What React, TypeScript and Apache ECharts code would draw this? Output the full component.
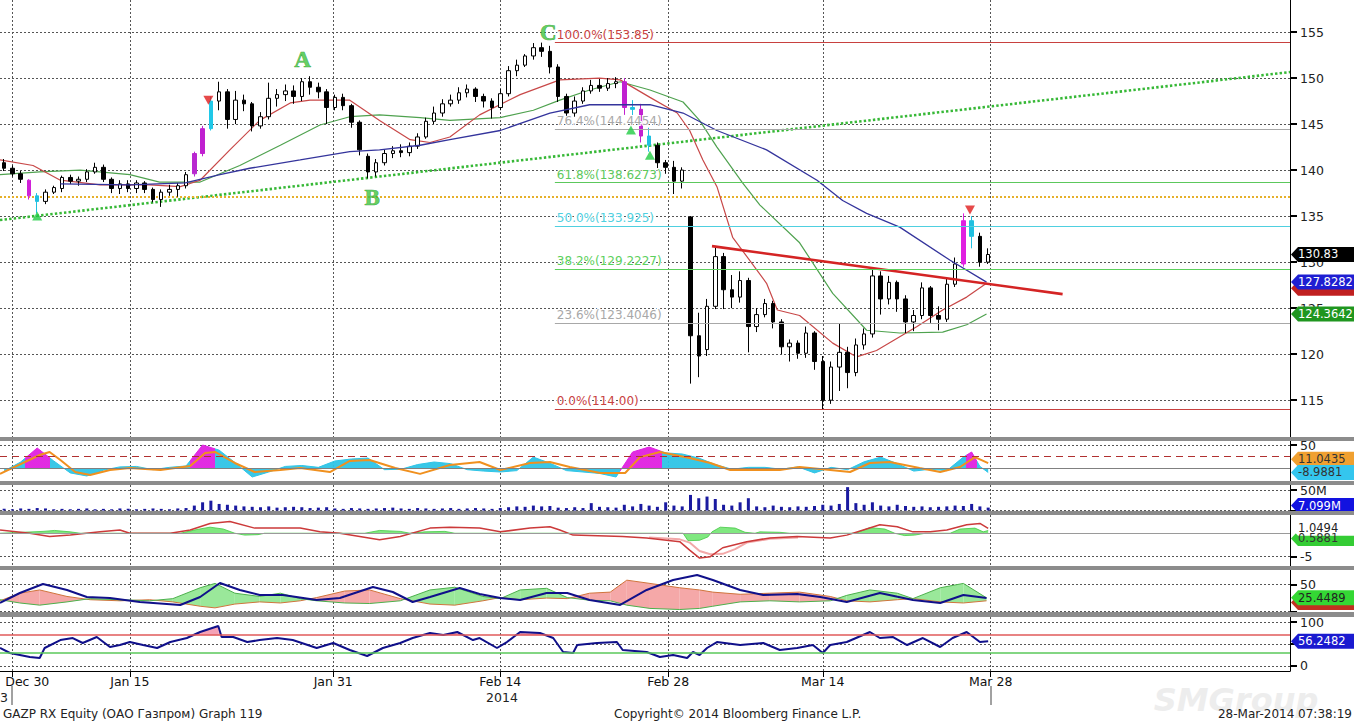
import React, { useEffect, useRef } from "react";
import * as echarts from "echarts";

const FONT = '"DejaVu Sans", Verdana, sans-serif';

// ---------- time scale: one slot = half a trading day ----------
const SLOT_COUNT = 156;
const X_MIN = -0.5;
const X_MAX = 155.5;
const tickSlots = [1, 15.2, 39.8, 60, 80.3, 99, 119.3];
const labelSlots = [2.8, 15.2, 39.8, 60, 80.3, 99, 119.3];
const tickLabels = ["Dec 30", "Jan 15", "Jan 31", "Feb 14", "Feb 28", "Mar 14", "Mar 28"];

// ---------- price (OHLC per slot) ----------
const opens = [140.8,140.2,139.6,138.9,137.2,136.6,137.6,138.0,139.2,138.8,139.0,139.8,140.3,139.0,138.0,138.5,138.0,138.6,137.9,136.8,137.6,137.9,138.3,139.6,141.8,144.5,147.5,148.5,145.5,147.6,147.2,144.8,145.8,147.8,148.2,148.6,148.0,149.6,149.0,148.5,146.8,147.9,147.0,145.2,141.5,139.8,140.8,141.8,142.1,141.9,142.6,143.6,145.3,146.2,147.2,147.6,148.4,148.8,148.0,147.5,146.8,148.3,150.8,151.4,152.4,153.3,152.9,151.2,148.0,146.2,147.5,148.6,149.2,148.9,149.4,149.6,146.8,146.6,143.7,142.7,140.8,140.3,138.8,134.9,122.0,120.5,125.2,130.6,127.0,126.2,128.0,123.0,124.3,125.5,123.5,120.8,121.2,120.1,122.3,119.2,115.0,118.6,120.2,118.0,121.0,122.2,128.5,126.0,127.8,126.0,123.5,124.2,127.2,124.2,123.8,127.6,129.8,134.5,132.8,130.0];
const closes = [140.2,139.6,139.0,137.2,136.6,137.6,138.1,139.2,138.8,139.0,139.8,140.3,139.0,138.0,138.5,138.0,138.6,137.9,136.8,137.6,137.9,138.3,139.5,141.8,144.5,147.5,148.5,145.5,147.6,147.2,144.8,145.8,147.8,148.2,148.6,148.0,149.6,149.0,148.5,146.8,147.9,147.0,145.2,142.2,139.8,140.8,141.8,142.1,141.9,142.6,143.6,145.3,146.2,147.2,147.6,148.4,148.8,148.0,147.5,146.8,148.3,150.8,151.4,152.4,153.3,152.9,151.2,148.0,146.2,147.5,148.6,149.2,148.9,149.4,149.6,146.8,146.6,143.7,142.7,140.8,140.3,138.8,140.0,122.0,119.8,125.2,130.6,127.0,126.2,128.0,123.0,124.3,125.5,123.5,120.8,121.2,120.1,122.3,119.2,115.0,118.6,120.2,118.0,121.0,122.2,128.5,126.0,127.8,126.0,123.5,124.2,127.2,124.2,123.8,127.6,129.8,134.5,132.8,130.0,130.83];
const lows = [139.9,139.3,138.6,136.8,135.3,136.3,137.4,137.6,138.5,138.3,138.7,139.6,138.7,137.5,137.4,137.6,137.5,137.5,136.5,136.0,137.2,137.1,138.0,139.3,141.5,144.3,146.5,144.5,145.0,146.4,144.2,144.5,145.5,146.9,147.5,147.2,147.5,148.2,147.8,145.0,146.5,146.5,144.6,141.6,139.1,139.3,140.5,141.3,141.4,141.5,142.3,143.4,145.0,145.8,146.9,147.2,147.9,147.4,146.8,145.6,146.5,148.0,150.2,151.2,152.0,152.3,150.5,147.4,145.8,145.8,147.2,148.3,148.5,148.6,148.9,146.0,145.9,143.0,142.0,140.1,139.6,137.4,138.0,116.8,117.5,119.8,124.9,124.9,125.0,125.6,120.2,122.4,124.0,122.8,120.0,119.2,119.5,119.6,118.3,114.0,114.6,116.0,116.3,117.6,120.5,121.8,124.3,125.4,124.6,122.3,122.5,123.8,123.4,122.6,123.5,127.3,129.5,131.5,129.5,129.8];
const highs = [141.2,140.5,139.9,139.0,137.5,137.9,138.3,139.4,139.5,139.3,140.1,140.8,140.6,139.2,138.9,138.9,138.9,138.8,138.1,137.9,138.4,138.6,139.8,142.0,144.8,148.0,149.6,148.8,148.6,148.2,147.4,146.3,149.5,148.8,149.3,149.2,150.0,150.2,149.5,148.8,148.2,148.3,147.2,145.4,141.8,141.2,142.2,142.6,142.8,143.0,144.0,145.7,146.9,147.7,148.2,149.0,149.3,149.0,148.3,147.8,148.8,151.3,152.0,152.6,153.8,153.85,153.5,151.5,148.3,148.0,149.0,149.8,149.9,150.0,150.1,150.0,147.6,147.2,144.6,143.0,141.1,141.0,140.3,135.0,124.5,126.0,131.7,131.0,128.6,129.0,128.3,125.0,126.0,125.8,123.8,121.6,121.5,123.0,122.5,119.8,119.2,123.3,120.8,121.7,122.8,129.2,129.0,128.5,128.0,126.4,124.8,127.8,127.4,125.2,128.2,130.5,135.3,135.0,133.2,131.5];
const signalSlots = [3, 4, 23, 24, 25, 75, 76, 77, 78, 116, 117];
const signalColors = ["#d020d8", "#20c0e0", "#b828d0", "#c020d0", "#20c8e8", "#c020d0", "#20c0e0", "#c020d0", "#20c0e0", "#e020e0", "#20c0e0"];

// ---------- moving averages ----------
const maRedX = [-0.5,3.5,6.8,11.6,17.6,21.3,23.7,27.3,30.9,34.6,37,41.8,45.4,49.1,51.5,53.9,57.5,62.4,67.2,72,74.5,78.1,81.4,82.9,84.5,86.2,88.1,92.2,93.5,96.2,100.2,103.1,105.5,110.4,113.5,116.4,118.8];
const maRedY = [141.1,140.5,138.9,138.4,138.4,138.2,138.9,142.2,145.4,147.3,147.6,147.6,145.4,143.3,143.0,143.6,146.0,148.2,149.8,150.0,149.8,147.9,146.2,144.3,141.1,138.2,132.7,127.7,124.8,124.2,121.2,119.7,120.4,123.0,124.8,126.2,127.7];
const maGreenX = [-0.5,4.3,9.2,15.2,18.8,23.7,28.5,33.4,38.2,41.8,45.4,50.3,53.9,60,64,67.2,70.8,74.5,78.1,82.1,84.1,86.2,89.3,91.4,96.2,100.2,104.3,108.3,113.5,116.4,118.8];
const maGreenY = [139.5,139.8,140.0,139.5,138.7,138.7,140.5,142.7,144.9,145.8,146.0,145.7,145.4,145.7,146.5,147.6,148.7,149.6,148.7,147.4,145.4,142.5,138.6,136.2,132.1,126.6,122.6,122.3,122.4,123.2,124.36];
const maBlueX = [6.8,15.2,21.9,26.1,29.7,35.8,41.8,45.4,50.3,53.9,60,66,70.8,78.1,82.1,86.2,92.2,98.3,101.4,104.3,108.3,114.4,118.8];
const maBlueY = [138.5,138.4,138.6,139.5,140.2,141.1,142.0,142.2,142.7,143.3,144.3,146.2,147.1,147.1,146.2,144.3,142.2,138.9,136.7,135.3,133.8,130.2,127.83];

// ---------- drawn studies ----------
const greenTrendX = [-0.5, 155.5];
const greenTrendY = [134.57, 150.65];
const orangeLevel = 137.07;
const redTrendX = [85.6, 128.0];
const redTrendY = [131.74, 126.52];
const fibHigh = 153.85;
const fibLow = 114.0;
const fibStartSlot = 66.6;
const fibPct = [100, 76.4, 61.8, 50, 38.2, 23.6, 0];
const fibLabels = ["100.0%(153.85)", "76.4%(144.4454)", "61.8%(138.6273)", "50.0%(133.925)", "38.2%(129.2227)", "23.6%(123.4046)", "0.0%(114.00)"];
const fibColors = ["#c8413f", "#a8a8a8", "#5cc85c", "#4fd0e0", "#5cd05c", "#a8a8a8", "#c8413f"];
const downMarkX = [24.7, 116.8];
const downMarkY = [147.6, 135.65];
const upMarkX = [4, 75.8, 78.1];
const upMarkY = [135.0, 144.35, 141.6];
const waveLabels = ["A", "B", "C"];
const waveX = [36.1, 44.5, 65.8];
const waveY = [152.0, 137.07, 155.0];
const priceTicks = [115, 120, 125, 130, 135, 140, 145, 150, 155];

// ---------- oscillator panel ----------
const oscX = [0,2,4,6,8,10,12,14,16,18,20,22,24,26,28,30,32,34,36,38,40,42,44,46,48,50,52,54,56,58,60,62,64,66,68,70,72,74,76,78,80,82,84,86,88,90,92,94,96,98,100,102,104,106,108,110,112,114,116,117,118,119];
const oscY = [-5.8,13.5,43.6,15.7,-10,-16.5,-4,3,4,-3,2,5,50,39,11,-18.7,-8,4,6,2,15.7,20,22,-3,-2,8,13.5,10,-3,-6,-8,-5,24,11,-5,-8,-11,-18.7,35,45.7,33,30.7,22,8,-2,2,2,-2,3,-10,2,-3,14,24,10,-6,-2,-5,24,35,4,-8.99];
const magentaRanges = [[2.5, 5.5], [22.5, 25.5], [74.5, 79.5], [116.3, 117.7]];
const oscSigX = [-0.5,4.3,5.5,6.8,8.6,10.4,12.8,15.2,18.9,22.5,24.3,25.5,27.9,30.3,33.4,35.8,39.4,41.8,44.2,47.3,50.3,53.9,57.5,60,63.6,66,68.4,72.1,75.1,76.9,79.3,82.9,85.4,87.8,93.8,96.2,99.9,102.3,104.7,107.1,110.7,113.2,115.6,117.4,119];
const oscSigY = [-12,28.5,35,17.8,-8,-14.4,-3.6,0.6,-3.6,5,33,35,11.4,-8,-3.6,0.6,-8,15.7,17.8,0.6,-12,7,13.5,-3.6,11.4,13.5,2.8,-10,-10,24,35,22,11.4,-3.6,-3.6,2.8,-3.6,-8,11.4,13.5,0.6,-8,2.8,24,11.04];

// ---------- volume (millions) ----------
const volume = [4,3,5,4,6,5,3,4,3,4,5,3,4,3,5,4,3,4,5,4,3,5,6,
  12,20,24,16,14,12,10,9,8,10,7,8,9,8,6,7,8,
  5,4,6,5,4,5,6,7,5,4,6,5,4,5,6,4,5,6,5,4,6,
  8,10,9,12,10,11,
  7,6,8,6,18,9,8,7,
  14,10,16,12,
  9,20,12,10,
  38,30,34,28,
  14,12,20,
  30,
  10,8,12,9,8,10,9,11,
  14,12,16,
  57,
  18,14,20,
  12,10,14,11,9,10,8,
  9,10,12,11,16,10,7.1];

// ---------- MACD ----------
const macdX = [-0.5,3.1,5.5,8,11.6,14,15.2,20.1,22.5,24.9,27.3,30.3,33.4,35.8,38.2,40.6,45.4,47.9,51.5,53.9,57.5,60,63.6,66,67.2,68.8,74.8,77.7,81.7,82.9,84.1,85.4,86.9,89.8,92.6,95.9,99.9,101.9,103.9,105.9,108,109.9,112,114,116.4,118,119];
const macdY = [0.7,0,-0.7,-0.4,0.3,0.7,0,0,0.7,2.1,2.5,1.1,1.1,1.1,0.3,0,-1.4,-0.7,1.1,1.3,1.1,0.3,1.1,1.4,0.7,-0.4,-0.7,-1.0,-1.8,-3.6,-5.3,-5.0,-3.1,-1.8,-1.0,-0.7,-1.0,-0.4,0.7,1.8,1.4,0.3,0.3,0.7,1.8,2.1,1.05];
const macdSigX = [78,81.7,82.9,84.1,85.4,86.9,88.4,89.8,92.6,96];
const macdSigY = [-0.9,-1.3,-2.0,-3.8,-4.5,-4.4,-3.4,-2.0,-1.2,-0.9];
const histX = [-0.5,4.7,6.1,8,9.2,21.3,23.3,24.9,26.5,27.9,29.1,30.7,31.5,43.6,45.4,47.9,49.1,50.9,53.3,54.5,73.3,82.1,82.7,84.1,85.1,85.6,86.6,88.4,89.6,90.8,91.4,93.8,95,102.9,104.7,106.5,107.7,108.9,110.1,111.4,114.4,115.6,117.4,118.4,119];
const histY = [0,0.4,0.6,0.3,0,0,0.8,1.3,0.9,0,-0.4,-0.3,0,0,0.6,0.4,0,0.3,0.4,0,0,0,-1.6,-1.5,-0.8,0.3,1.3,1.1,0.2,0,0.3,0.2,0,0,1.2,0.9,0,-0.5,-0.4,0,0,0.9,1.1,0.3,0.59];

// ---------- DMI ----------
const dmiX = [-0.5,1.9,4.3,7.6,10.4,14,17.6,20.4,23.7,25.5,27.9,30.9,33.4,35.8,37.8,41.2,44.2,47.9,51.5,54.5,57.9,60,62.4,65.6,68.1,70.8,73.3,75.3,78.1,81.7,84.1,85.7,89,92.6,96.2,99.9,101.9,104.7,108,109.9,113.2,116,118.8];
const diPlus = [22,16,12,18,24,22,20,24,44,52,34,28,34,24,20,16,15,20,40,45,28,24,40,43,26,21,20,12,6,4,6,10,18,20,18,20,30,40,34,24,44,52,25.4];
const diMinus = [20,34,40,28,22,20,22,18,10,7,14,18,16,20,26,38,40,24,14,12,20,26,22,25,24,34,36,58,52,44,40,36,32,34,36,28,20,18,22,24,18,16,20];
const adxX = [-0.5,1.9,4.7,7.6,10,12.8,16.4,21.3,23.7,26.1,28.5,30.9,33.7,37.8,40.6,44.6,47,49.4,51.5,55.1,57.5,60,62.4,65.6,68.1,70.8,74.5,77.7,80.9,83.8,85.7,89,91.8,95.9,98.7,101.9,105.9,109.9,113.2,116,118.8];
const adxY = [16,34.4,51,39.9,27,25.2,17.8,12.3,27,52.8,39.9,30.7,30.7,21.5,25.2,45.4,36.2,17.8,27,43.6,32.5,25.2,21.5,34.4,34.4,21.5,12.3,39.9,58.3,67.5,58.3,39.9,30.7,32.5,27,17.8,34.4,21.5,16,30.7,25.2];

// ---------- RSI ----------
const rsiX = [-0.5,0.7,1.9,3.1,4.3,4.9,6.8,8.3,9.5,11.2,12.8,14,15.2,16.8,18.5,20.1,22.1,23.7,25.9,26.3,27.7,29.4,30.9,33,34.9,37.8,39.8,41.8,43.9,45.8,47.9,49.4,51.5,53.1,54.8,56.7,57.5,59.6,60.8,62.4,64.8,66.4,67.6,68.8,69.3,71.7,74.1,74.8,77.7,79.3,80.9,82.6,83.3,84.1,85,86.2,89,91.8,93.8,95.9,97.8,99,99.9,101.9,104.7,105.9,107.5,109.2,111.1,113.2,114.7,116.4,118,119];
const rsiY = [40.9,29.5,25,20.5,18.2,40.9,59,63.6,52.3,65.9,43.2,47.7,54.5,47.7,40.9,54.5,63.6,77.3,90.9,65.9,65.9,54.5,59,63.6,59,40.9,52.3,36.4,22.7,40.9,52.3,63.6,75,70.5,77.3,59,63.6,40.9,54.5,77.3,75,63.6,31.8,29.5,47.7,52.3,54.5,36.4,31.8,20.5,25,18.2,31.8,25,40.9,54.5,47.7,52.3,36.4,40.9,47.7,29.5,47.7,54.5,77.3,63.6,65.9,47.7,63.6,43.2,63.6,77.3,54.5,56.25];
const rsiUpper = 70;
const rsiLower = 30;

// ---------- last-value tags ----------
const lastPrice = 130.83;
const maBlueLast = 127.8282;
const maRedLast = 127.6;
const maGreenLast = 124.3642;
const oscLast = -8.9881;
const oscSigLast = 11.0435;
const volLast = 7.099;
const macdLast = 1.0494;
const macdHistLast = 0.5881;
const dmiLast = 25.4489;
const rsiLast = 56.2482;

const zip = (xs: number[], ys: number[]) => xs.map((x, i) => [x, ys[i]]);
const TAG_PATH = "path://M0,7.5L7,0L70,0L70,15L7,15Z";
const tag = (value: number, text: string, bg: string, fg: string, dy = 0) => ({
  coord: [X_MAX, value],
  symbol: TAG_PATH,
  symbolSize: [70, 15],
  symbolOffset: [36, dy],
  symbolKeepAspect: false,
  itemStyle: { color: bg },
  label: { show: true, position: "insideLeft", distance: 7, formatter: text, color: fg, fontSize: 11.5, fontFamily: FONT },
});
const tags = (data: any[]) => ({ silent: true, animation: false, data });

// filled band between two polylines sharing the same x values (drawn through the axes' scales)
function bandSeries(xi: number, yi: number, xs: number[], a: number[], b: number[], posColor: string, negColor: string | null) {
  return {
    type: "custom",
    xAxisIndex: xi,
    yAxisIndex: yi,
    silent: true,
    clip: true,
    z: 1,
    data: xs.slice(0, -1).map((x, i) => [x, xs[i + 1], a[i], a[i + 1], b[i], b[i + 1]]),
    encode: { x: [0, 1], y: [2, 3, 4, 5] },
    renderItem: (_params: any, api: any) => {
      const x0 = api.value(0), x1 = api.value(1);
      const a0 = api.value(2), a1 = api.value(3), b0 = api.value(4), b1 = api.value(5);
      const P = (x: number, y: number) => api.coord([x, y]);
      const d0 = a0 - b0, d1 = a1 - b1;
      const polys: { pts: number[][]; pos: boolean }[] = [];
      if (d0 * d1 >= 0) {
        polys.push({ pts: [P(x0, a0), P(x1, a1), P(x1, b1), P(x0, b0)], pos: d0 + d1 >= 0 });
      } else {
        const t = d0 / (d0 - d1);
        const xc = x0 + t * (x1 - x0);
        const yc = a0 + t * (a1 - a0);
        polys.push({ pts: [P(x0, a0), P(xc, yc), P(x0, b0)], pos: d0 > 0 });
        polys.push({ pts: [P(xc, yc), P(x1, a1), P(x1, b1)], pos: d1 > 0 });
      }
      const children = polys
        .filter((p) => p.pos || negColor)
        .map((p) => ({ type: "polygon", shape: { points: p.pts }, style: { fill: p.pos ? posColor : (negColor as string) } }));
      return { type: "group", children };
    },
  };
}

function buildOption() {
  const CYAN = "#2ec4e6";
  const MAGENTA = "#e020e0";
  const gridDefs = [
    { top: 0, height: 437 },
    { top: 441, height: 40 },
    { top: 485, height: 26 },
    { top: 515, height: 51 },
    { top: 570, height: 42 },
    { top: 617, height: 54 },
  ];
  const grid = gridDefs.map((g) => ({ left: 0, right: 64, top: g.top, height: g.height, containLabel: false, outerBoundsMode: "none" }));

  const splitStyle = { show: true, lineStyle: { color: "#555", type: [2, 2], width: 1 } };
  const valueX = (gridIndex: number, bottom: boolean) => ({
    type: "value",
    gridIndex,
    min: X_MIN,
    max: X_MAX,
    axisLine: { show: bottom, onZero: false, lineStyle: { color: "#000", width: 1 } },
    axisTick: { show: bottom, customValues: tickSlots, length: 6, lineStyle: { color: "#000" } },
    axisLabel: bottom
      ? {
          show: true,
          customValues: labelSlots,
          margin: 4,
          color: "#111",
          fontSize: 12.5,
          fontFamily: FONT,
          formatter: (v: number) => {
            const k = labelSlots.findIndex((s) => Math.abs(s - v) < 1e-6);
            return k >= 0 ? tickLabels[k] : "";
          },
        }
      : { show: false },
    splitLine: splitStyle,
  });
  const xAxis: any[] = [
    {
      type: "category",
      gridIndex: 0,
      data: Array.from({ length: SLOT_COUNT }, (_, i) => String(i)),
      boundaryGap: true,
      show: false,
    },
    valueX(0, false),
    valueX(1, false),
    valueX(2, false),
    valueX(3, false),
    valueX(4, false),
    valueX(5, true),
  ];

  const yAx = (gridIndex: number, min: number, max: number, labels: number[], ticks: number[], fmt?: (v: number) => string) => ({
    type: "value",
    gridIndex,
    position: "right",
    min,
    max,
    axisLine: { show: true, onZero: false, lineStyle: { color: "#000", width: 1 } },
    axisTick: { show: true, customValues: ticks, length: 7, lineStyle: { color: "#000", width: 2 } },
    axisLabel: { show: true, customValues: labels, formatter: fmt, margin: 10, color: "#222", fontSize: 12.5, fontFamily: FONT },
    splitLine: splitStyle,
  });
  const yAxis: any[] = [
    yAx(0, 111.0, 158.48, priceTicks, priceTicks),
    yAx(1, -27.3, 58.6, [50], [50]),
    yAx(2, -1.2, 62.2, [50], [0, 50], (v: number) => v + "M"),
    yAx(3, -7.0, 3.9, [-5], [-5]),
    yAx(4, -0.6, 76.7, [50], [0, 50]),
    yAx(5, -11.4, 111.4, [0, 100], [0, 50, 100]),
  ];

  const line = (xi: number, yi: number, data: any[], color: string, width: number, extra: any = {}) => ({
    type: "line",
    xAxisIndex: xi,
    yAxisIndex: yi,
    data,
    symbol: "none",
    silent: true,
    lineStyle: { color, width },
    ...extra,
  });

  const candleData = opens.map((o, i) => {
    const k = signalSlots.indexOf(i);
    const item: any = { value: [o, closes[i], lows[i], highs[i]] };
    if (k >= 0) {
      const c = signalColors[k];
      item.itemStyle = { color: c, color0: c, borderColor: c, borderColor0: c };
    }
    return item;
  });

  const fibMarks = fibPct.map((p, i) => {
    const lvl = fibLow + ((fibHigh - fibLow) * p) / 100;
    return [
      {
        coord: [fibStartSlot, lvl],
        lineStyle: { color: fibColors[i], width: 1, type: "solid" },
        label: {
          show: true,
          position: "insideStartTop",
          distance: [2, 2],
          formatter: fibLabels[i],
          color: fibColors[i],
          fontSize: 12,
          fontFamily: FONT,
          textBorderColor: "#fff",
          textBorderWidth: 2,
        },
      },
      { coord: [X_MAX, lvl] },
    ];
  });

  const series: any[] = [];
  // main panel
  series.push(line(1, 0, zip(greenTrendX, greenTrendY), "#36b836", 2.6, { lineStyle: { color: "#36b836", width: 2.6, type: [2.4, 2.2] }, z: 1 }));
  series.push(line(1, 0, [[X_MIN, orangeLevel], [X_MAX, orangeLevel]], "#e6b02a", 2, { lineStyle: { color: "#e6b02a", width: 2, type: [2, 2] }, z: 1 }));
  series.push({
    type: "line",
    xAxisIndex: 1,
    yAxisIndex: 0,
    data: [[fibStartSlot, fibHigh]],
    symbol: "none",
    silent: true,
    z: 1,
    markLine: { symbol: ["none", "none"], silent: true, animation: false, data: fibMarks },
  });
  series.push(line(1, 0, zip(maGreenX, maGreenY), "#4fa24f", 1.2, { z: 2 }));
  series.push(line(1, 0, zip(maRedX, maRedY), "#c84848", 1.2, { z: 2 }));
  series.push({
    type: "candlestick",
    xAxisIndex: 0,
    yAxisIndex: 0,
    data: candleData,
    barWidth: 4,
    silent: true,
    z: 3,
    itemStyle: { color: "#ffffff", color0: "#000000", borderColor: "#000000", borderColor0: "#000000", borderWidth: 1 },
  });
  series.push(
    line(1, 0, zip(maBlueX, maBlueY), "#34349c", 1.3, {
      z: 4,
      markPoint: tags([
        tag(maRedLast, "", "#c02020", "#fff", 4),
        tag(maBlueLast, String(maBlueLast), "#1e1ed2", "#ffffff"),
        tag(maGreenLast, String(maGreenLast), "#1f961f", "#ffffff"),
        tag(lastPrice, String(lastPrice), "#000000", "#ffffff"),
      ]),
    })
  );
  series.push(line(1, 0, zip(redTrendX, redTrendY), "#d42424", 2.6, { z: 4 }));
  series.push({
    type: "scatter",
    xAxisIndex: 1,
    yAxisIndex: 0,
    data: zip(downMarkX, downMarkY),
    symbol: "triangle",
    symbolRotate: 180,
    symbolSize: [10, 9],
    itemStyle: { color: "#e01c1c" },
    silent: true,
    z: 6,
  });
  series.push({
    type: "scatter",
    xAxisIndex: 1,
    yAxisIndex: 0,
    data: zip(upMarkX, upMarkY),
    symbol: "triangle",
    symbolSize: [10, 9],
    itemStyle: { color: "#22cc44" },
    silent: true,
    z: 6,
  });
  series.push({
    type: "scatter",
    xAxisIndex: 1,
    yAxisIndex: 0,
    data: waveX.map((x, i) => ({ value: [x, waveY[i]], name: waveLabels[i] })),
    symbolSize: 1,
    itemStyle: { color: "rgba(0,0,0,0)" },
    silent: true,
    z: 7,
    label: {
      show: true,
      position: "inside",
      formatter: "{b}",
      color: "#3cc23c",
      fontSize: 23,
      fontWeight: "bold",
      fontFamily: '"Liberation Serif", "DejaVu Serif", serif',
      textBorderColor: "#2a8a2a",
      textBorderWidth: 0.6,
    },
  });

  // oscillator panel
  const oscIndex = series.length;
  series.push({
    type: "line",
    xAxisIndex: 2,
    yAxisIndex: 1,
    data: zip(oscX, oscY),
    symbol: "none",
    silent: true,
    lineStyle: { width: 1 },
    areaStyle: { opacity: 0.95 },
    z: 2,
  });
  series.push(
    line(2, 1, zip(oscSigX, oscSigY), "#f0901e", 2, {
      z: 3,
      markLine: {
        symbol: ["none", "none"],
        silent: true,
        animation: false,
        label: { show: false },
        data: [
          { yAxis: 25, lineStyle: { color: "#b03030", type: [7, 5], width: 1 } },
          { yAxis: 0, lineStyle: { color: "#808080", type: "solid", width: 1 } },
        ],
      },
      markPoint: tags([tag(oscSigLast, String(oscSigLast), "#f0a030", "#333", -4), tag(oscLast, String(oscLast), "#34c6ee", "#333")]),
    })
  );

  // volume panel
  series.push({
    type: "bar",
    xAxisIndex: 3,
    yAxisIndex: 2,
    data: volume.map((v, i) => [i, v]),
    barWidth: 3,
    silent: true,
    itemStyle: { color: "#1a1aa0" },
    markPoint: tags([tag(volLast, volLast + "M", "#1212e0", "#ffffff", -2)]),
  });

  // MACD panel
  series.push(line(4, 3, zip(histX, histY), "#44c844", 0.8, { areaStyle: { color: "#72e672", opacity: 0.9 }, z: 2 }));
  series.push(line(4, 3, zip(macdSigX, macdSigY), "#f2a8a8", 2, { z: 2 }));
  series.push(
    line(4, 3, zip(macdX, macdY), "#cc3a3a", 1.5, {
      z: 3,
      markLine: {
        symbol: ["none", "none"],
        silent: true,
        animation: false,
        label: { show: false },
        data: [{ yAxis: 0, lineStyle: { color: "#9a9a9a", type: "solid", width: 1 } }],
      },
      markPoint: tags([tag(macdHistLast, String(macdHistLast), "#34cc34", "#333", 8), tag(macdLast, String(macdLast), "#ffffff", "#222")]),
    })
  );

  // DMI panel
  series.push(bandSeries(5, 4, dmiX, diPlus, diMinus, "#9ae89a", "#f5a8a8"));
  series.push(line(5, 4, zip(dmiX, diMinus), "#d0743c", 1, { z: 2 }));
  series.push(line(5, 4, zip(dmiX, diPlus), "#4cb04c", 1, { z: 2 }));
  series.push(
    line(5, 4, zip(adxX, adxY), "#10108a", 2, {
      z: 3,
      markPoint: tags([tag(dmiLast - 1, "", "#c03020", "#fff", 4), tag(dmiLast, String(dmiLast), "#34d834", "#222")]),
    })
  );

  // RSI panel
  series.push(bandSeries(6, 5, rsiX, rsiY, rsiX.map(() => rsiUpper), "#f4a2b6", null));
  series.push(
    line(6, 5, zip(rsiX, rsiY), "#10108a", 2, {
      z: 3,
      markLine: {
        symbol: ["none", "none"],
        silent: true,
        animation: false,
        label: { show: false },
        data: [
          { yAxis: rsiUpper, lineStyle: { color: "#e05a5a", type: "solid", width: 1.5 } },
          { yAxis: rsiLower, lineStyle: { color: "#5ac85a", type: "solid", width: 1.5 } },
        ],
      },
      markPoint: tags([tag(rsiLast, String(rsiLast), "#1a1ad0", "#ffffff")]),
    })
  );

  const oscPieces: any[] = [];
  let prev = X_MIN - 1;
  magentaRanges.forEach(([a, b]) => {
    oscPieces.push({ min: prev, max: a, color: CYAN });
    oscPieces.push({ min: a, max: b, color: MAGENTA });
    prev = b;
  });
  oscPieces.push({ min: prev, max: X_MAX + 1, color: CYAN });

  const separators = [437, 481, 511, 566, 612].map((y, i) => ({
    type: "rect",
    silent: true,
    z: 50,
    shape: { x: 0, y, width: 1354, height: i === 4 ? 5 : 4 },
    style: { fill: "#8c8c8c" },
  }));
  const txt = (text: string, x: number, y: number, align: string, font: string, fill = "#222") => ({
    type: "text",
    silent: true,
    z: 60,
    x,
    y,
    style: { text, fill, font, align, verticalAlign: "middle", textAlign: align, textVerticalAlign: "middle" },
  });

  return {
    animation: false,
    backgroundColor: "#ffffff",
    textStyle: { fontFamily: FONT },
    grid,
    xAxis,
    yAxis,
    visualMap: [{ type: "piecewise", show: false, seriesIndex: oscIndex, dimension: 0, pieces: oscPieces }],
    series,
    graphic: [
      ...separators,
      { type: "line", silent: true, z: 60, shape: { x1: 12, y1: 686, x2: 12, y2: 705 }, style: { stroke: "#444", lineWidth: 1 } },
      { type: "line", silent: true, z: 60, shape: { x1: 991, y1: 686, x2: 991, y2: 705 }, style: { stroke: "#444", lineWidth: 1 } },
      txt("3", 0, 697, "left", `12.5px ${FONT}`),
      txt("2014", 502, 697, "center", `12.5px ${FONT}`),
      txt("SMGroup", 1236, 700, "center", `italic bold 32px ${FONT}`, "#ededed"),
      txt("GAZP RX Equity (ОАО Газпром) Graph 119", 3, 714, "left", `12px ${FONT}`),
      txt("Copyright© 2014 Bloomberg Finance L.P.", 614, 714, "left", `12px ${FONT}`),
      txt("28-Mar-2014 07:38:19", 1352, 714, "right", `12px ${FONT}`),
    ],
  };
}

export default function App() {
  const ref = useRef<HTMLDivElement>(null);
  useEffect(() => {
    if (!ref.current) return;
    const chart = echarts.init(ref.current, undefined, { renderer: "svg" });
    chart.setOption(buildOption() as any);
    return () => chart.dispose();
  }, []);
  return <div ref={ref} style={{ position: "fixed", left: 0, top: 0, width: 1354, height: 723, background: "#fff" }} />;
}
